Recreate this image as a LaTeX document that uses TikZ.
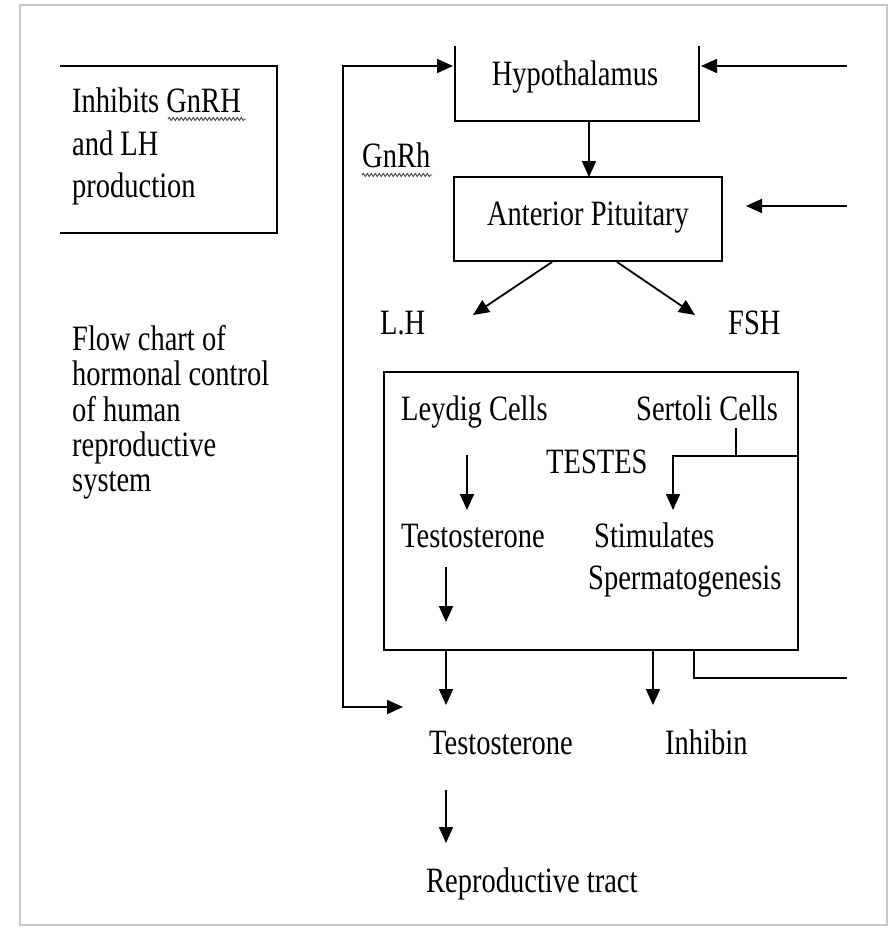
\documentclass[tikz,border=0pt]{standalone}
\usepackage{fontspec}
\setmainfont{Liberation Serif}
\usepackage{graphicx}
\usetikzlibrary{arrows.meta,decorations.pathmorphing}
\newcommand\fs{\fontsize{28.5}{30}\selectfont}
\newcommand\tl[1]{\scalebox{1}[1.25]{#1}}
\begin{document}
\begin{tikzpicture}[x=1pt,y=-1pt,
  lbl/.style={font=\fs, inner sep=0pt, anchor=base west},
  ln/.style={line width=1.8pt},
  tip/.tip={Triangle[length=16pt,width=14pt]},
  arr/.style={ln,-tip},
  wavy/.style={decorate,decoration={snake,segment length=4pt,amplitude=1.5pt},line width=0.9pt,black!75},
  frame/.style={draw=black!22,line width=2.5pt}
]
\useasboundingbox (0,0) rectangle (892,932);
\draw[frame] (20,5) rectangle (887,925);

% ---- boxes ----
\coordinate (ib1) at (60,66);  \coordinate (ib2) at (277,66);
\coordinate (ib3) at (277,233); \coordinate (ib4) at (60,233);
\draw[ln] (ib1) -- (ib2) -- (ib3) -- (ib4);

\coordinate (hy1) at (455,46);  \coordinate (hy2) at (455,121);
\coordinate (hy3) at (699,121); \coordinate (hy4) at (699,46);
\draw[ln] (hy1) -- (hy2) -- (hy3) -- (hy4);

\node[draw,ln,inner sep=0pt,minimum width=268pt,minimum height=84pt] (ap) at (588,219) {};
\node[draw,ln,inner sep=0pt,minimum width=414pt,minimum height=278pt] (testes) at (591,511) {};

% ---- texts ----
\node[lbl] (t1) at (72,112) {\tl{Inhibits GnRH}};
\node[lbl] (t2) at (72,155) {\tl{and LH}};
\node[lbl] (t3) at (72,197) {\tl{production}};
\draw[wavy] (168,119) -- (246,119);

\node[lbl] (gn) at (362,167) {\tl{GnRh}};
\draw[wavy] (362,175) -- (432,175);

\node[lbl,anchor=base] (hyp) at (575,85) {\tl{Hypothalamus}};
\node[lbl,anchor=base] (apt) at (588,225) {\tl{Anterior Pituitary}};
\node[lbl] (lh) at (380,334) {\tl{L.H}};
\node[lbl] (fsh) at (728,334) {\tl{FSH}};

\node[lbl] (f1) at (72,350) {\tl{Flow chart of}};
\node[lbl] (f2) at (72,385) {\tl{hormonal control}};
\node[lbl] (f3) at (72,421) {\tl{of human}};
\node[lbl] (f4) at (72,456) {\tl{reproductive}};
\node[lbl] (f5) at (72,491) {\tl{system}};

\node[lbl] (ley) at (401,420) {\tl{Leydig Cells}};
\node[lbl] (ser) at (636,420) {\tl{Sertoli Cells}};
\node[lbl] (tes) at (546,473) {\tl{TESTES}};
\node[lbl] (tst1) at (401,547) {\tl{Testosterone}};
\node[lbl] (stim) at (594,547) {\tl{Stimulates}};
\node[lbl] (sperm) at (588,589) {\tl{Spermatogenesis}};
\node[lbl] (tst2) at (429,754) {\tl{Testosterone}};
\node[lbl] (inh) at (665,754) {\tl{Inhibin}};
\node[lbl] (rep) at (426,892) {\tl{Reproductive tract}};

% ---- connector points ----
\coordinate (fbA) at (403,707);
\coordinate (fbB) at (343,707);
\coordinate (fbC) at (343,66);
\coordinate (fbD) at (453,66);
\coordinate (rt1) at (847,66);  \coordinate (rt1e) at (701,66);
\coordinate (hd1) at (589,121); \coordinate (hd2) at (589,177);
\coordinate (rt2) at (847,206); \coordinate (rt2e) at (746,206);
\coordinate (d1s) at (552,262); \coordinate (d1e) at (473,315);
\coordinate (d2s) at (617,262); \coordinate (d2e) at (695,315);
\coordinate (l1s) at (467,455); \coordinate (l1e) at (467,510);
\coordinate (s1) at (736,428);  \coordinate (s2) at (736,456);
\coordinate (s3) at (798,456);  \coordinate (s4) at (673,456);
\coordinate (s5) at (673,510);
\coordinate (i1s) at (446,567); \coordinate (i1e) at (446,622);
\coordinate (o1s) at (446,650); \coordinate (o1e) at (446,705);
\coordinate (o2s) at (653,650); \coordinate (o2e) at (653,705);
\coordinate (o3s) at (694,650); \coordinate (o3m) at (694,678);
\coordinate (o3e) at (847,678);
\coordinate (r1s) at (446,790); \coordinate (r1e) at (446,843);

% ---- connectors ----
\draw[ln,tip-tip] (fbA) -- (fbB) -- (fbC) -- (fbD);
\draw[arr] (rt1) -- (rt1e);
\draw[arr] (hd1) -- (hd2);
\draw[arr] (rt2) -- (rt2e);
\draw[arr] (d1s) -- (d1e);
\draw[arr] (d2s) -- (d2e);
\draw[arr] (l1s) -- (l1e);
\draw[ln] (s1) -- (s2);
\draw[arr] (s3) -- (s4) -- (s5);
\draw[arr] (i1s) -- (i1e);
\draw[arr] (o1s) -- (o1e);
\draw[arr] (o2s) -- (o2e);
\draw[ln] (o3s) -- (o3m) -- (o3e);
\draw[arr] (r1s) -- (r1e);
\end{tikzpicture}
\end{document}
